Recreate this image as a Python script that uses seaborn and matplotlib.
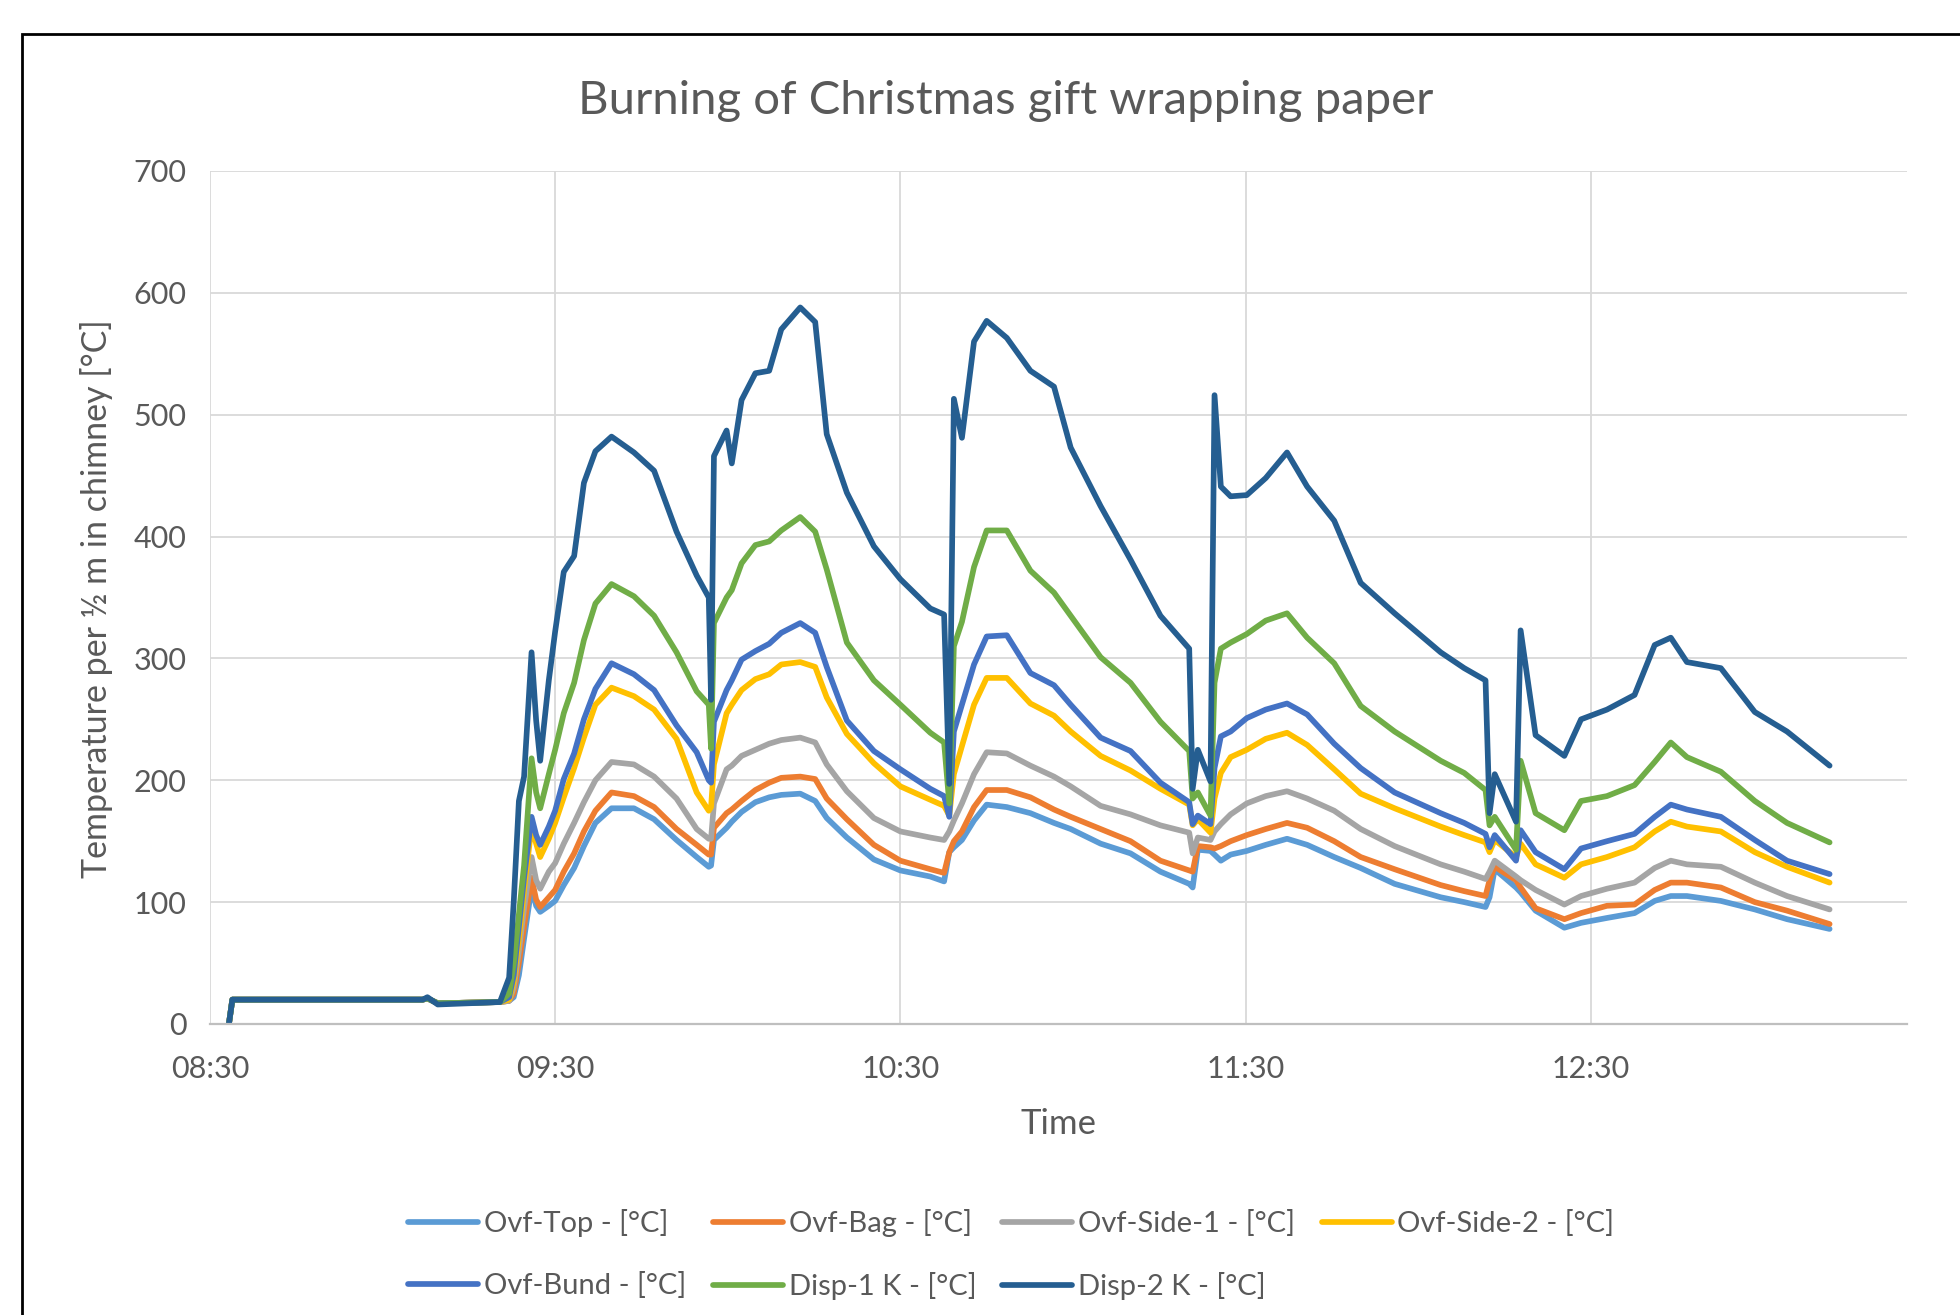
import pandas as pd
import seaborn as sns
import matplotlib.pyplot as plt
from matplotlib.patches import Rectangle

# minutes after 08:30, shared by all the sensors
minutes = [
    3.3, 3.9, 37.0, 37.8, 39.6, 50.4, 52.0, 52.8, 53.7, 54.6,
    55.9, 56.7, 57.4, 58.9, 60.0, 61.5, 63.3, 65.0, 67.0, 69.8,
    73.7, 77.2, 81.1, 84.6, 86.7, 87.1, 87.6, 89.8, 90.7, 92.4,
    94.8, 97.2, 99.3, 102.6, 105.2, 107.2, 110.7, 115.4, 120.0, 125.2,
    127.6, 128.5, 129.3, 130.7, 132.8, 135.0, 138.5, 142.6, 146.7, 149.6,
    154.8, 160.0, 165.2, 170.2, 170.8, 171.7, 173.9, 174.6, 175.7, 177.4,
    180.2, 183.5, 187.2, 190.7, 195.4, 200.0, 205.9, 213.9, 218.0, 221.7,
    222.4, 223.3, 227.0, 227.8, 230.4, 235.4, 238.3, 242.8, 247.6, 251.1,
    253.9, 256.7, 262.6, 268.5, 274.1, 281.5,
]

ovf_top = [
    0, 20, 20, 21, 17, 18, 19, 22, 40, 70,
    112, 97, 92, 97, 101, 114, 128, 146, 165, 177,
    177, 168, 151, 137, 129, 130, 151, 161, 166, 174,
    182, 186, 188, 189, 183, 169, 153, 135, 126, 121,
    117, 141, 145, 151, 167, 180, 178, 173, 165, 160,
    148, 140, 125, 115, 112, 143, 142, 139, 134, 139,
    142, 147, 152, 147, 137, 128, 115, 104, 100, 96,
    104, 127, 112, 108, 93, 79, 83, 87, 91, 101,
    105, 105, 101, 94, 86, 78,
]
ovf_bag = [
    0, 20, 20, 21, 17, 18, 19, 25, 50, 80,
    120, 102, 96, 104, 110, 125, 140, 158, 175, 190,
    187, 178, 160, 147, 139, 139, 161, 173, 176, 183,
    192, 198, 202, 203, 201, 185, 168, 147, 134, 127,
    124, 141, 150, 158, 178, 192, 192, 186, 176, 170,
    160, 150, 134, 126, 125, 146, 145, 144, 146, 150,
    155, 160, 165, 161, 150, 137, 127, 114, 109, 105,
    118, 129, 118, 112, 95, 86, 91, 97, 98, 110,
    116, 116, 112, 100, 93, 82,
]
ovf_side_1 = [
    0, 20, 20, 21, 17, 18, 19, 30, 60, 95,
    137, 118, 111, 125, 132, 148, 165, 182, 200, 215,
    213, 203, 185, 160, 152, 152, 181, 209, 212, 220,
    225, 230, 233, 235, 231, 213, 191, 169, 158, 153,
    151, 158, 167, 181, 205, 223, 222, 212, 203, 195,
    179, 172, 163, 157, 140, 153, 151, 158, 164, 172,
    181, 187, 191, 185, 175, 160, 146, 131, 125, 119,
    125, 134, 121, 118, 110, 98, 105, 111, 116, 128,
    134, 131, 129, 116, 105, 94,
]
ovf_side_2 = [
    0, 20, 20, 21, 17, 18, 20, 35, 70, 110,
    162, 148, 137, 152, 165, 186, 210, 235, 262, 276,
    269, 258, 234, 190, 175, 178, 213, 255, 262, 274,
    283, 287, 295, 297, 293, 268, 238, 214, 195, 184,
    179, 171, 205, 228, 262, 284, 284, 263, 253, 240,
    220, 208, 193, 180, 163, 168, 157, 185, 206, 219,
    225, 234, 239, 229, 209, 189, 177, 162, 155, 149,
    141, 151, 137, 148, 131, 120, 131, 137, 145, 158,
    166, 162, 158, 141, 129, 116,
]
ovf_bund = [
    0, 20, 20, 21, 17, 18, 22, 40, 80, 120,
    170, 155, 147, 162, 175, 201, 222, 250, 275, 296,
    287, 274, 245, 223, 200, 198, 248, 274, 282, 299,
    306, 312, 321, 329, 321, 293, 249, 224, 209, 193,
    187, 170, 240, 262, 295, 318, 319, 288, 278, 262,
    235, 224, 198, 182, 164, 171, 164, 210, 236, 240,
    251, 258, 263, 254, 230, 210, 190, 173, 165, 156,
    145, 155, 134, 159, 141, 127, 144, 150, 156, 170,
    180, 176, 170, 151, 134, 123,
]
disp_1 = [
    0, 20, 20, 21, 17, 18, 25, 50, 90, 130,
    218, 190, 177, 205, 225, 255, 280, 315, 345, 361,
    351, 335, 305, 273, 262, 226, 329, 350, 356, 378,
    393, 396, 405, 416, 404, 373, 313, 282, 262, 239,
    231, 181, 310, 330, 375, 405, 405, 372, 354, 335,
    301, 280, 248, 224, 185, 190, 171, 280, 308, 313,
    320, 331, 337, 317, 296, 261, 240, 216, 206, 192,
    163, 170, 143, 216, 173, 159, 183, 187, 196, 215,
    231, 219, 207, 183, 165, 149,
]
disp_2 = [
    0, 20, 20, 22, 16, 18, 38, 100, 183, 203,
    305, 249, 216, 282, 322, 371, 384, 444, 470, 482,
    469, 454, 404, 368, 350, 266, 466, 487, 460, 512,
    534, 536, 570, 588, 576, 484, 436, 392, 365, 341,
    336, 197, 513, 481, 560, 577, 563, 536, 523, 473,
    425, 381, 335, 308, 193, 225, 199, 516, 441, 433,
    434, 448, 469, 441, 413, 362, 337, 305, 292, 282,
    173, 205, 166, 323, 237, 220, 250, 258, 270, 311,
    317, 297, 292, 256, 240, 212,
]

series_names = [
    "Ovf-Top - [°C]", "Ovf-Bag - [°C]", "Ovf-Side-1 - [°C]", "Ovf-Side-2 - [°C]",
    "Ovf-Bund - [°C]", "Disp-1 K - [°C]", "Disp-2 K - [°C]",
]
series_values = [ovf_top, ovf_bag, ovf_side_1, ovf_side_2, ovf_bund, disp_1, disp_2]
colors = ["#5B9BD5", "#ED7D31", "#A5A5A5", "#FFC000", "#4472C4", "#70AD47", "#255E91"]
tick_labels = ["08:30", "09:30", "10:30", "11:30", "12:30"]

df = pd.concat(
    [pd.DataFrame({"minutes": minutes, "temp": vals, "sensor": name})
     for name, vals in zip(series_names, series_values)],
    ignore_index=True,
)

sns.set_style("white")
plt.rcParams["font.family"] = ["Lato", "DejaVu Sans"]
text_color = "#595959"

fig = plt.figure(figsize=(19.6, 13.15), dpi=100)
ax = fig.add_axes([0.1071, 0.2213, 0.866, 0.6487])

sns.lineplot(
    data=df, x="minutes", y="temp", hue="sensor", hue_order=series_names,
    palette=dict(zip(series_names, colors)), linewidth=4.1, sort=False,
    estimator=None, ax=ax,
)

# time axis: ticks every hour from 08:30
tick_pos = [(int(t[:2]) * 60 + int(t[3:])) - 8 * 60 - 30 for t in tick_labels]
ax.set_xlim(0, 295)
ax.set_ylim(0, 700)
ax.set_xticks(tick_pos)
ax.set_xticklabels(tick_labels)
ax.set_yticks(range(0, 701, 100))
ax.grid(True, color="#D9D9D9", linewidth=1.3)
ax.set_axisbelow(True)
for side in ["top", "right", "left"]:
    ax.spines[side].set_visible(False)
ax.spines["bottom"].set_color("#BFBFBF")
ax.spines["bottom"].set_linewidth(1.6)
ax.tick_params(axis="both", length=0, labelsize=22, colors=text_color)
ax.tick_params(axis="x", pad=22)
ax.tick_params(axis="y", pad=17)
ax.set_xlabel("")
ax.set_ylabel("")

fig.text(0.513, 0.923, "Burning of Christmas gift wrapping paper",
         ha="center", va="center", fontsize=34, color=text_color)
fig.text(0.049, 0.545, "Temperature per ½ m in chimney [°C]", rotation=90,
         ha="center", va="center", fontsize=24.5, color=text_color)
fig.text(0.540, 0.145, "Time", ha="center", va="center", fontsize=25, color=text_color)

# legend, filled row by row like the original
handles, labels = ax.get_legend_handles_labels()
ax.legend_.remove()
order = [0, 4, 1, 5, 2, 6, 3]
fig.legend(
    [handles[i] for i in order], [labels[i] for i in order],
    ncol=4, loc="center", bbox_to_anchor=(0.516, 0.046), frameon=False,
    fontsize=21, labelcolor=text_color, handlelength=2.4, handletextpad=0.2,
    columnspacing=0.9, labelspacing=1.2,
)

# chart frame, cut off at the right and bottom
fig.add_artist(Rectangle((0.0112, -0.1), 1.2, 1.074, transform=fig.transFigure,
                         fill=False, edgecolor="black", linewidth=2))

fig.savefig("out.png", dpi=100)
